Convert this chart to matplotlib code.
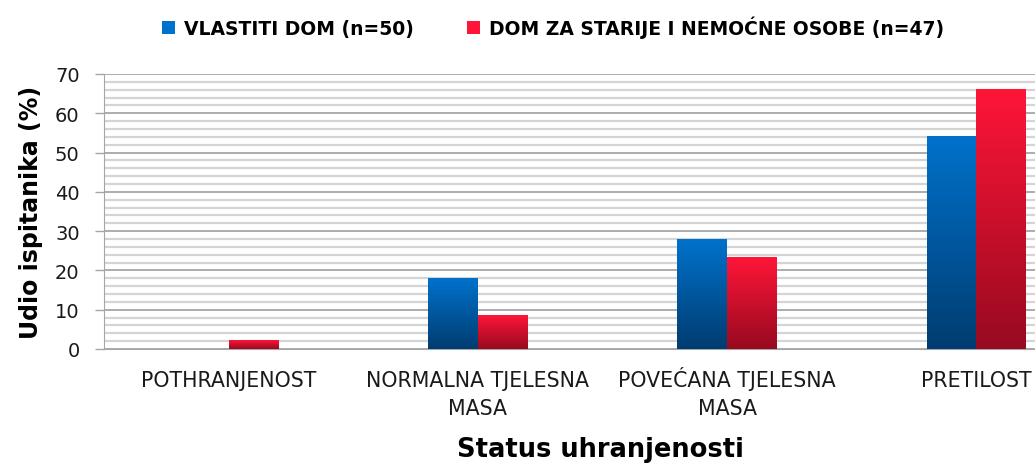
import numpy as np
import matplotlib
matplotlib.use("Agg")
import matplotlib.pyplot as plt
from matplotlib.colors import LinearSegmentedColormap
from matplotlib.patches import Patch

categories = ["POTHRANJENOST", "NORMALNA TJELESNA\nMASA", "POVEĆANA TJELESNA\nMASA", "PRETILOST"]
series_names = ["VLASTITI DOM (n=50)", "DOM ZA STARIJE I NEMOĆNE OSOBE (n=47)"]
vlastiti_dom = [0, 18, 28, 54]
dom_za_starije = [2.1, 8.5, 23.4, 66.0]

blue_top, blue_bot = "#0072CC", "#003C70"
red_top, red_bot = "#FF1538", "#970A20"

plt.rcParams['font.family'] = ['DejaVu Sans']

fig = plt.figure(figsize=(10.35, 4.64), dpi=100)
W, H = 1035, 464
ax = fig.add_axes([104 / W, 1 - 350 / H, 997 / W, 275 / H])

x = np.arange(len(categories))
bw = 0.2
b1 = ax.bar(x - bw / 2, vlastiti_dom, bw, color="none", zorder=3)
b2 = ax.bar(x + bw / 2, dom_za_starije, bw, color="none", zorder=3)

grad = np.linspace(1, 0, 256).reshape(-1, 1)
cm_blue = LinearSegmentedColormap.from_list("b", [blue_bot, blue_top])
cm_red = LinearSegmentedColormap.from_list("r", [red_bot, red_top])
for bars, cm in ((b1, cm_blue), (b2, cm_red)):
    for p in bars:
        h = p.get_height()
        if h <= 0:
            continue
        x0 = p.get_x()
        ax.imshow(grad, cmap=cm, aspect="auto", extent=(x0, x0 + p.get_width(), 0, h),
                  zorder=3, interpolation="bilinear")

ax.set_xlim(-0.5, len(categories) - 0.5)
ax.set_ylim(0, 70)
ax.set_yticks(np.arange(0, 71, 10))
ax.set_yticks(np.arange(0, 71, 2), minor=True)
ax.grid(axis="y", which="major", color="#A6A6A6", linewidth=1.3, zorder=0)
ax.grid(axis="y", which="minor", color="#D4D4D4", linewidth=1.6, zorder=0)
ax.set_axisbelow(True)
ax.set_xticks(x)
# pad every label to two lines so all first lines share one baseline
labels2 = [c if "\n" in c else c + "\n" for c in categories]
ax.set_xticklabels(labels2, fontsize=14.8, color="#1a1a1a", linespacing=1.5, va="baseline")
ax.tick_params(axis="x", length=0, pad=47)
ax.tick_params(axis="y", which="major", length=6.5, color="#A6A6A6", width=1, labelsize=14, pad=11,
               labelcolor="#1a1a1a")
ax.tick_params(axis="y", which="minor", length=0)
for s in ("top", "right"):
    ax.spines[s].set_visible(False)
ax.spines["left"].set_color("#A6A6A6")
ax.spines["bottom"].set_color("#A6A6A6")

ax.set_ylabel("Udio ispitanika (%)", fontsize=17, fontweight="bold")
ax.yaxis.set_label_coords((43 - 104) / 997, 0.5)
fig.text(600 / W, 1 - 450 / H, "Status uhranjenosti", fontsize=18.5, fontweight="bold",
         ha="center", va="center")

handles = [Patch(facecolor=blue_top, edgecolor="none"), Patch(facecolor=red_top, edgecolor="none")]
fig.legend(handles, series_names, loc="center", bbox_to_anchor=(553 / W, 1 - 28 / H), ncol=2,
           frameon=False, prop={"weight": "bold", "size": 13.5}, handlelength=0.7, handleheight=0.7,
           handletextpad=0.5, columnspacing=2.8)

fig.savefig("out.png", dpi=100)
